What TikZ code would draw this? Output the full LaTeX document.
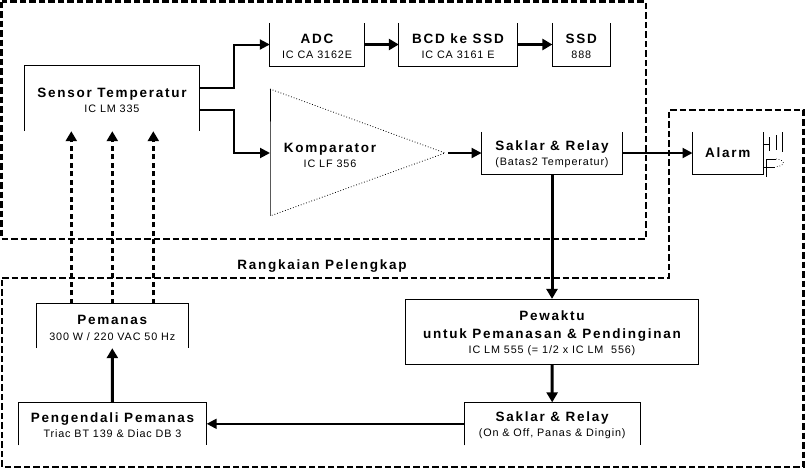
\documentclass[tikz,border=0pt]{standalone}
\usepackage{fontspec}
\setmainfont{Liberation Sans}
\newfontfamily\titlefont[LetterSpace=13]{Liberation Sans Bold}
\newfontfamily\subfamily[LetterSpace=8]{Liberation Sans}
\newcommand{\ttl}{\titlefont\fontsize{13.5}{18}\selectfont}
\newcommand{\sbt}{\subfamily\fontsize{10.8}{16}\selectfont}
\newcommand{\headline}{\rule{0pt}{13pt}\ttl}
% open boxes: the edge named is the one left out
\newcommand{\opentop}[1]{\draw[edgeline] (#1.north west) -- (#1.south west) -- (#1.south east) -- (#1.north east);}
\newcommand{\openbottom}[1]{\draw[edgeline] (#1.south west) -- (#1.north west) -- (#1.north east) -- (#1.south east);}
\usetikzlibrary{arrows.meta}
\tikzset{
  block/.style={align=center, inner sep=0pt},
  edgeline/.style={line width=0.8pt, black},
  wire/.style={line width=2pt, -{Triangle[length=10pt,width=10pt]}},
  buswire/.style={line width=3pt, -{Triangle[length=10pt,width=11pt]}},
  heatwire/.style={line width=2.4pt, dash pattern=on 5pt off 3.5pt, -{Triangle[length=10pt,width=11pt]}},
  zone/.style={line width=2.4pt, dash pattern=on 6.5pt off 3pt},
}
\begin{document}
\begin{tikzpicture}[x=1pt,y=-1pt]
\useasboundingbox (0,0) rectangle (805,469);
\fill[white] (0,0) rectangle (805,469);
% Nodes
% sensor and display row
\node[block, minimum width=175pt, minimum height=65pt](sensor) at (112,98.5) {\headline Sensor Temperatur\\[3pt]\sbt IC LM 335};
\node[block, minimum width=94pt, minimum height=43pt](adc) at (317,44.5) {\headline ADC\\[3.5pt]\sbt IC CA 3162E};
\node[block, minimum width=118pt, minimum height=43pt](bcd) at (458,44.5) {\headline BCD ke SSD\\[3.5pt]\sbt IC CA 3161 E};
\node[block, minimum width=57.5pt, minimum height=43pt](ssd) at (581.3,44.5) {\headline SSD\\[3.5pt]\sbt 888};
% comparator
\coordinate (kompin) at (270,153);
\coordinate (kompout) at (448,153);
\node[block](komp) at (330,154) {\headline Komparator\\[3pt]\sbt IC LF 356};
\node[block, minimum width=140.5pt, minimum height=42pt](relaya) at (552,153) {\headline Saklar \& Relay\\[3pt]\sbt (Batas2 Temperatur)};
\node[block, minimum width=70pt, minimum height=42pt](alarm) at (727.7,153) {\ttl Alarm};
% complement part
\node[block, minimum width=151.5pt, minimum height=44pt](heater) at (112.3,326) {\headline Pemanas\\[3.5pt]\sbt 300 W / 220 VAC 50 Hz};
\node[block, minimum width=188pt, minimum height=42.5pt](driver) at (112.5,423.8) {\headline Pengendali Pemanas\\[3pt]\sbt Triac BT 139 \& Diac DB 3};
\node[block, minimum width=292.6pt, minimum height=65pt, draw, line width=0.8pt](timer) at (552,331.8) {\headline Pewaktu\\[6.5pt]\ttl untuk Pemanasan \& Pendinginan\\[3pt]\sbt IC LM 555 (= 1/2 x IC LM\ \ 556)};
\node[block, minimum width=175.7pt, minimum height=42.5pt](relayb) at (552.2,423.8) {\headline Saklar \& Relay\\[3pt]\sbt (On \& Off, Panas \& Dingin)};
\node[block](zonelabel) at (322,266.5) {\ttl Rangkaian Pelengkap};

% zones
\draw[zone] (1.5,1.5) rectangle (645.7,239);
\draw[zone] (2,277.7) -- (668.8,277.7) -- (668.8,110) -- (803.6,110) -- (803.6,466.8) -- (2,466.8) -- cycle;

% box outlines
\openbottom{sensor}
\opentop{adc}
\opentop{bcd}
\opentop{ssd}
\opentop{relaya}
\opentop{alarm}
\openbottom{heater}
\openbottom{driver}
\openbottom{relayb}
\draw[edgeline] (270,216) -- (kompin) -- (270,89);
\draw[line width=0.8pt, dotted] (270,89) -- (445,153) -- (270,216);

% speaker
\draw[line width=0.7pt] (alarm.east |- 0,144) -- (769,144) (769,137) -- (769,151) (776,135) -- (776,150) (782.7,132) -- (782.7,152);
\draw[line width=0.7pt] (alarm.east |- 0,167) -- (775,167) (766,159) -- (766,177) (766,159) -- (776,159);
\draw[line width=0.7pt, dotted] (776,159) .. controls (786,160) and (786,166) .. (775,167);

% Edges
\draw[wire] ([yshift=10.5pt]sensor.east) -- ++(34.5,0) |- (adc.west);
\draw[wire] ([yshift=-11.5pt]sensor.east) -- ++(34.5,0) |- (kompin);
\draw[buswire] (adc.east) -- (bcd.west);
\draw[buswire] (bcd.east) -- (ssd.west);
\draw[wire] (kompout) -- (relaya.west);
\draw[wire] (relaya.east) -- (alarm.west);
\draw[buswire] (relaya.south) -- (timer.north);
\draw[buswire] (timer.south) -- (relayb.north);
\draw[wire] (relayb.west) -- (driver.east);
\draw[buswire] (driver.north) -- (heater.south);
\foreach \dx in {-41,0,41}
  \draw[heatwire] ([xshift=\dx pt]heater.north) -- ([xshift=\dx pt]heater.north |- sensor.south);

\end{tikzpicture}
\end{document}
